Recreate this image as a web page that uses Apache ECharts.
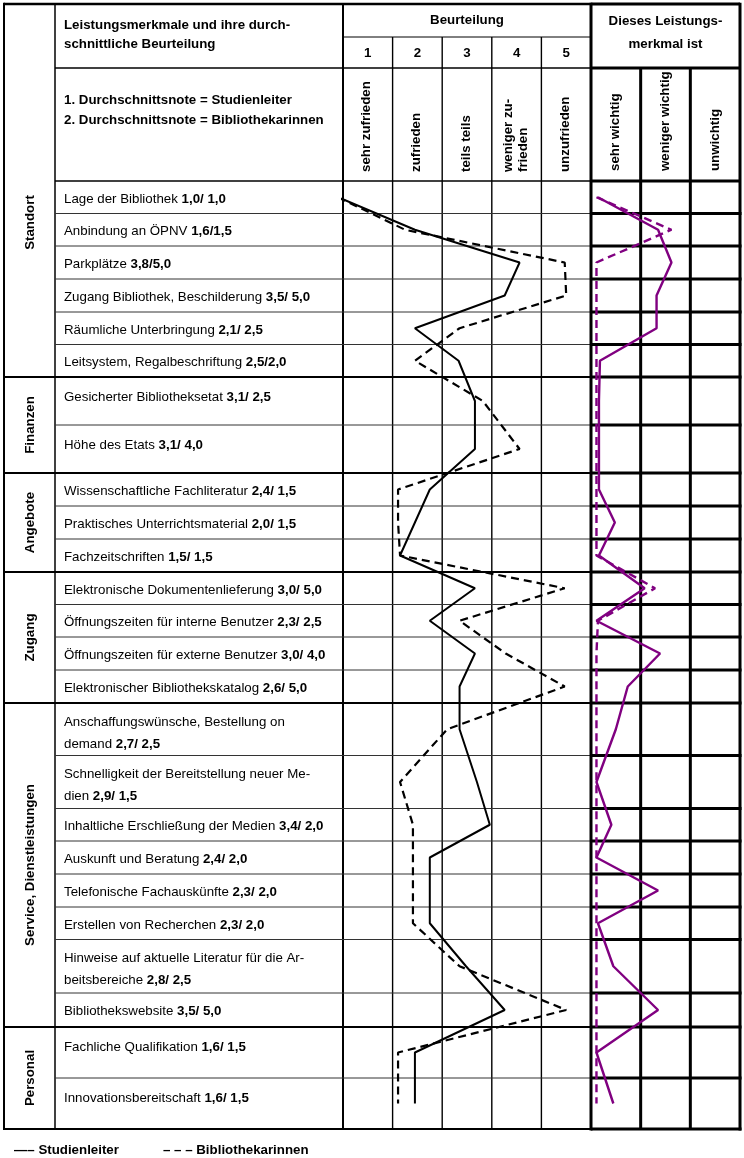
<!DOCTYPE html>
<html><head><meta charset="utf-8">
<script src="https://cdn.jsdelivr.net/npm/echarts@6/dist/echarts.min.js"></script>
<style>html,body{margin:0;padding:0;background:#fff}#c{width:744px;height:1158px}</style>
</head><body><div id="c"></div>
<script>
// ---------------- DATA ----------------
const groups = ['Standort', 'Finanzen', 'Angebote', 'Zugang', 'Service, Dienstleistungen', 'Personal'];
const groupSizes = [6, 2, 3, 4, 8, 2];
const items = [
  'Lage der Bibliothek', 'Anbindung an ÖPNV', 'Parkplätze', 'Zugang Bibliothek, Beschilderung',
  'Räumliche Unterbringung', 'Leitsystem, Regalbeschriftung',
  'Gesicherter Bibliotheksetat', 'Höhe des Etats',
  'Wissenschaftliche Fachliteratur', 'Praktisches Unterrichtsmaterial', 'Fachzeitschriften',
  'Elektronische Dokumentenlieferung', 'Öffnungszeiten für interne Benutzer',
  'Öffnungszeiten für externe Benutzer', 'Elektronischer Bibliothekskatalog',
  'Anschaffungswünsche, Bestellung on\ndemand', 'Schnelligkeit der Bereitstellung neuer Me-\ndien',
  'Inhaltliche Erschließung der Medien', 'Auskunft und Beratung', 'Telefonische Fachauskünfte',
  'Erstellen von Recherchen', 'Hinweise auf aktuelle Literatur für die Ar-\nbeitsbereiche', 'Bibliothekswebsite',
  'Fachliche Qualifikation', 'Innovationsbereitschaft'
];
const scoreLabels = ['1,0/ 1,0', '1,6/1,5', '3,8/5,0', '3,5/ 5,0', '2,1/ 2,5', '2,5/2,0',
  '3,1/ 2,5', '3,1/ 4,0', '2,4/ 1,5', '2,0/ 1,5', '1,5/ 1,5', '3,0/ 5,0', '2,3/ 2,5', '3,0/ 4,0',
  '2,6/ 5,0', '2,7/ 2,5', '2,9/ 1,5', '3,4/ 2,0', '2,4/ 2,0', '2,3/ 2,0', '2,3/ 2,0', '2,8/ 2,5',
  '3,5/ 5,0', '1,6/ 1,5', '1,6/ 1,5'];
const ratingTicks = ['1', '2', '3', '4', '5'];
const ratingNames = ['sehr zufrieden', 'zufrieden', 'teils teils', 'weniger zu-\nfrieden', 'unzufrieden'];
const importanceNames = ['sehr wichtig', 'weniger wichtig', 'unwichtig'];
// profile lines as drawn (rating scale 1..5)
const studienleiter = [0.4, 1.95, 4.06, 3.76, 1.95, 2.83, 3.16, 3.16, 2.25, 1.95, 1.65, 3.16, 2.25,
  3.16, 2.85, 2.85, 3.2, 3.46, 2.25, 2.25, 2.25, 2.98, 3.76, 1.95, 1.95];
const bibliothekarinnen = [0.4, 1.75, 4.97, 5.0, 2.85, 1.95, 3.32, 4.06, 1.61, 1.61, 1.65, 4.97, 2.85,
  3.78, 4.97, 2.6, 1.65, 1.91, 1.91, 1.91, 1.91, 2.85, 5.0, 1.61, 1.61];
// importance lines (1 = sehr wichtig, 2 = weniger wichtig, 3 = unwichtig)
const wichtigStudienleiter = [0.64, 1.85, 2.12, 1.82, 1.82, 0.68, 0.66, 0.66, 0.66, 0.98, 0.66, 1.58,
  0.61, 1.89, 1.24, 1.0, 0.61, 0.91, 0.61, 1.85, 0.64, 0.95, 1.85, 0.61, 0.95];
const wichtigBibliothekarinnen = [0.61, 2.12, 0.61, 0.61, 0.61, 0.61, 0.61, 0.61, 0.61, 0.61, 0.61,
  1.79, 0.64, 0.61, 0.61, 0.61, 0.61, 0.61, 0.61, 0.61, 0.61, 0.61, 0.61, 0.61, 0.61];
const legendLabels = ['\u2014\u2013 Studienleiter', '\u2013 \u2013 \u2013 Bibliothekarinnen'];

// ---------------- LAYOUT ----------------
const FONT = "'Liberation Sans', Arial, Helvetica, sans-serif";
const FS = '13.3px ';
const T = { x0: 4, xCat: 55, xDesc: 343, xRate: 591, x1: 740, y0: 4, yBeurt: 37, yHead: 68, yData: 181 };
const rowHeights = [32.5, 32.5, 33, 33, 32.5, 32.5, 48, 48, 33, 33, 33, 32.5, 32.5, 33, 33,
  52.5, 53, 32.5, 33, 33, 32.5, 53.5, 34, 51, 51];
const bounds = [0];
rowHeights.forEach(h => bounds.push(bounds[bounds.length - 1] + h));
const total = bounds[bounds.length - 1];
const centers = rowHeights.map((h, i) => bounds[i] + h / 2);
const PURPLE = '#800080';

const chart = echarts.init(document.getElementById('c'), null, { renderer: 'canvas', width: 744, height: 1158 });

const toPts = arr => arr.map((v, i) => [v, centers[i]]);
chart.setOption({
  animation: false,
  backgroundColor: '#fff',
  grid: [
    { left: T.xDesc, top: T.yData, width: T.xRate - T.xDesc, height: total },
    { left: T.xRate, top: T.yData, width: T.x1 - T.xRate, height: total }
  ],
  xAxis: [
    { type: 'value', gridIndex: 0, min: 0.5, max: 5.5, show: false },
    { type: 'value', gridIndex: 1, min: 0.5, max: 3.5, show: false }
  ],
  yAxis: [
    { type: 'value', gridIndex: 0, min: 0, max: total, inverse: true, show: false },
    { type: 'value', gridIndex: 1, min: 0, max: total, inverse: true, show: false }
  ],
  series: [
    { name: 'Studienleiter', type: 'line', xAxisIndex: 0, yAxisIndex: 0, data: toPts(studienleiter),
      symbol: 'none', clip: false, z: 5, lineStyle: { color: '#000', width: 2 } },
    { name: 'Bibliothekarinnen', type: 'line', xAxisIndex: 0, yAxisIndex: 0, data: toPts(bibliothekarinnen),
      symbol: 'none', clip: false, z: 5, lineStyle: { color: '#000', width: 2.2, type: [8, 5] } },
    { name: 'Wichtigkeit Studienleiter', type: 'line', xAxisIndex: 1, yAxisIndex: 1, data: toPts(wichtigStudienleiter),
      symbol: 'none', clip: false, z: 5, lineStyle: { color: PURPLE, width: 2.4 } },
    { name: 'Wichtigkeit Bibliothekarinnen', type: 'line', xAxisIndex: 1, yAxisIndex: 1, data: toPts(wichtigBibliothekarinnen),
      symbol: 'none', clip: false, z: 5, lineStyle: { color: PURPLE, width: 2.4, type: [8, 5] } }
  ]
});

// pixel helpers through the axes
const py = v => chart.convertToPixel({ yAxisIndex: 0 }, v);
const pxR = v => chart.convertToPixel({ xAxisIndex: 0 }, v);
const pxI = v => chart.convertToPixel({ xAxisIndex: 1 }, v);
const yBottom = py(total);

const els = [];
function line(x1, y1, x2, y2, w, c) {
  els.push({ type: 'line', z: 1, shape: { x1, y1, x2, y2 }, style: { stroke: c || '#000', lineWidth: w } });
}
function text(x, y, t, opt) {
  opt = opt || {};
  els.push({ type: 'text', z: 3, x, y, rotation: opt.rot || 0,
    style: { text: t, fill: '#000', font: (opt.bold ? 'bold ' : '') + FS + FONT,
      align: opt.align || 'left', verticalAlign: opt.va || 'middle', lineHeight: opt.lh || 15,
      rich: opt.rich } });
}

// group boundary indices
const groupEnds = [];
let acc = 0;
groupSizes.forEach(s => { acc += s; groupEnds.push(acc); });

// ---- left + rating part lines ----
line(T.x0, T.y0, T.xRate, T.y0, 2.5);
line(T.x0, T.y0 - 1.2, T.x0, yBottom, 2);
line(T.xCat, T.y0, T.xCat, yBottom, 1.5);
line(T.xDesc, T.y0, T.xDesc, yBottom, 2);
for (let k = 1; k < 5; k++) line(pxR(k + 0.5), T.yBeurt, pxR(k + 0.5), yBottom, 1.4);
line(T.xDesc, T.yBeurt, T.xRate, T.yBeurt, 1);
line(T.xCat, T.yHead, T.xRate, T.yHead, 1.5);
line(T.xCat, T.yData, T.xRate, T.yData, 1.5);
for (let i = 1; i < bounds.length; i++) {
  const y = py(bounds[i]);
  if (groupEnds.indexOf(i) >= 0) line(T.x0 - 1, y, T.xRate, y, 2);
  else line(T.xCat, y, T.xRate, y, 1, '#333');
}
// ---- importance part lines ----
const IW = 3;
line(T.xRate, T.y0 - 1.2, T.xRate, yBottom + 1.5, IW);
line(T.x1, T.y0 - 1.2, T.x1, yBottom + 1.5, IW);
for (let k = 1; k < 3; k++) line(pxI(k + 0.5), T.yHead, pxI(k + 0.5), yBottom, IW);
line(T.xRate, T.y0, T.x1, T.y0, IW);
line(T.xRate, T.yHead, T.x1, T.yHead, IW);
line(T.xRate, T.yData, T.x1, T.yData, IW);
for (let i = 1; i < bounds.length; i++) line(T.xRate, py(bounds[i]), T.x1 + 1.5, py(bounds[i]), IW);

// ---- header texts ----
text(64, 25, 'Leistungsmerkmale und ihre durch-', { bold: true });
text(64, 44, 'schnittliche Beurteilung', { bold: true });
text((T.xDesc + T.xRate) / 2, 20, 'Beurteilung', { bold: true, align: 'center' });
ratingTicks.forEach((t, k) => text(pxR(k + 1), 53, t, { bold: true, align: 'center' }));
text((T.xRate + T.x1) / 2, 21, 'Dieses Leistungs-', { bold: true, align: 'center' });
text((T.xRate + T.x1) / 2, 44, 'merkmal ist', { bold: true, align: 'center' });
text(64, 100, '1. Durchschnittsnote = Studienleiter', { bold: true });
text(64, 120, '2. Durchschnittsnote = Bibliothekarinnen', { bold: true });
ratingNames.forEach((t, k) => text(pxR(k + 1) - 1, 172, t, { bold: true, rot: Math.PI / 2, lh: 15 }));
importanceNames.forEach((t, k) => text(pxI(k + 1), 171, t, { bold: true, rot: Math.PI / 2 }));

// ---- group labels ----
let start = 0;
groups.forEach((g, gi) => {
  const end = start + groupSizes[gi];
  const top = gi === 0 ? T.yHead : py(bounds[start]);
  const c = (top + py(bounds[end])) / 2;
  text((T.x0 + T.xCat) / 2 + 1, c, g, { bold: true, rot: Math.PI / 2, align: 'center' });
  start = end;
});

// ---- item texts ----
const rich = { n: { font: FS + FONT, fill: '#000' }, b: { font: 'bold ' + FS + FONT, fill: '#000' } };
items.forEach((name, i) => {
  const lines = name.split('\n');
  const top = py(bounds[i]);
  const first = lines.length > 1 ? 19 : (rowHeights[i] > 45 ? 20 : 18);
  lines.forEach((ln, j) => {
    const isLast = j === lines.length - 1;
    const t = isLast ? '{n|' + ln + ' }{b|' + scoreLabels[i] + '}' : '{n|' + ln + '}';
    text(64, top + first + j * 22, t, { rich });
  });
});

// ---- legend ----
text(14, 1150, legendLabels[0], { bold: true });
text(163, 1150, legendLabels[1], { bold: true });

chart.setOption({ graphic: { elements: els } });
</script></body></html>
